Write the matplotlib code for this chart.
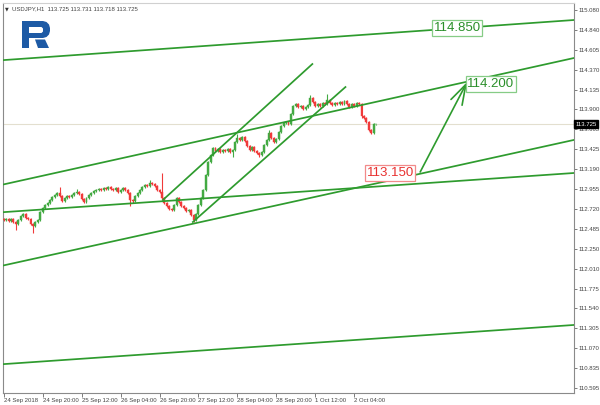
import matplotlib
matplotlib.use('Agg')
import matplotlib.pyplot as plt
from matplotlib.patches import Polygon

# ---------------- data (USDJPY H1) ----------------
opens = [112.600, 112.588, 112.600, 112.576, 112.600, 112.565, 112.541, 112.588, 112.636, 112.660,
         112.612, 112.600, 112.541, 112.517, 112.565, 112.588, 112.683, 112.731, 112.766, 112.790,
         112.826, 112.861, 112.885, 112.909, 112.873, 112.814, 112.849, 112.873, 112.861, 112.885,
         112.909, 112.921, 112.897, 112.837, 112.802, 112.849, 112.885, 112.909, 112.932, 112.944,
         112.956, 112.944, 112.968, 112.956, 112.980, 112.956, 112.944, 112.968, 112.921, 112.944,
         112.968, 112.944, 112.909, 112.826, 112.814, 112.873, 112.909, 112.944, 112.980, 113.004,
         112.992, 113.027, 113.015, 112.992, 112.944, 112.921, 112.849, 112.790, 112.754, 112.719,
         112.707, 112.766, 112.849, 112.802, 112.754, 112.731, 112.695, 112.707, 112.648, 112.588,
         112.660, 112.766, 112.849, 112.944, 113.122, 113.276, 113.360, 113.443, 113.407, 113.431,
         113.395, 113.419, 113.407, 113.431, 113.395, 113.419, 113.514, 113.561, 113.538, 113.573,
         113.526, 113.466, 113.419, 113.454, 113.407, 113.383, 113.360, 113.395, 113.478, 113.538,
         113.621, 113.561, 113.514, 113.549, 113.632, 113.704, 113.739, 113.751, 113.727, 113.846,
         113.941, 113.965, 113.929, 113.941, 113.905, 113.929, 113.953, 114.036, 113.988, 113.941,
         113.965, 113.941, 113.977, 113.965, 114.012, 113.977, 113.953, 113.977, 113.965, 113.988,
         113.965, 114.000, 113.965, 113.929, 113.965, 113.941, 113.977, 113.965, 113.822, 113.799,
         113.751, 113.656, 113.621, 113.725]
closes = [112.588, 112.600, 112.576, 112.600, 112.565, 112.541, 112.588, 112.636, 112.660, 112.612,
          112.600, 112.541, 112.517, 112.565, 112.588, 112.683, 112.731, 112.766, 112.790, 112.826,
          112.861, 112.885, 112.909, 112.873, 112.814, 112.849, 112.873, 112.861, 112.885, 112.909,
          112.921, 112.897, 112.837, 112.802, 112.849, 112.885, 112.909, 112.932, 112.944, 112.956,
          112.944, 112.968, 112.956, 112.980, 112.956, 112.944, 112.968, 112.921, 112.944, 112.968,
          112.944, 112.909, 112.826, 112.814, 112.873, 112.909, 112.944, 112.980, 113.004, 112.992,
          113.027, 113.015, 112.992, 112.944, 112.921, 112.849, 112.790, 112.754, 112.719, 112.707,
          112.766, 112.849, 112.802, 112.754, 112.731, 112.695, 112.707, 112.648, 112.588, 112.660,
          112.766, 112.849, 112.944, 113.122, 113.276, 113.360, 113.443, 113.407, 113.431, 113.395,
          113.419, 113.407, 113.431, 113.395, 113.419, 113.514, 113.561, 113.538, 113.573, 113.526,
          113.466, 113.419, 113.454, 113.407, 113.383, 113.360, 113.395, 113.478, 113.538, 113.621,
          113.561, 113.514, 113.549, 113.632, 113.704, 113.739, 113.751, 113.727, 113.846, 113.941,
          113.965, 113.929, 113.941, 113.905, 113.929, 113.953, 114.036, 113.988, 113.941, 113.965,
          113.941, 113.977, 113.965, 114.012, 113.977, 113.953, 113.977, 113.965, 113.988, 113.965,
          114.000, 113.965, 113.929, 113.965, 113.941, 113.977, 113.965, 113.822, 113.799, 113.751,
          113.656, 113.621, 113.727, 113.725]
highs = [112.612, 112.612, 112.612, 112.612, 112.612, 112.577, 112.600, 112.648, 112.672, 112.672,
         112.624, 112.612, 112.553, 112.577, 112.600, 112.695, 112.743, 112.778, 112.802, 112.838,
         112.873, 112.897, 112.921, 112.980, 112.885, 112.861, 112.885, 112.885, 112.897, 112.921,
         112.956, 112.933, 112.909, 112.849, 112.861, 112.897, 112.921, 112.944, 112.956, 112.968,
         112.968, 112.980, 112.980, 112.992, 112.992, 112.968, 112.980, 112.980, 112.956, 112.980,
         112.980, 112.956, 112.921, 112.838, 112.885, 112.921, 112.956, 112.992, 113.016, 113.016,
         113.063, 113.039, 113.027, 113.004, 112.956, 113.146, 112.861, 112.802, 112.766, 112.731,
         112.778, 112.861, 112.861, 112.814, 112.766, 112.743, 112.719, 112.719, 112.660, 112.672,
         112.778, 112.861, 112.956, 113.134, 113.288, 113.372, 113.455, 113.455, 113.443, 113.443,
         113.431, 113.431, 113.443, 113.443, 113.431, 113.526, 113.609, 113.573, 113.585, 113.585,
         113.538, 113.478, 113.466, 113.466, 113.419, 113.395, 113.407, 113.490, 113.550, 113.656,
         113.633, 113.573, 113.561, 113.644, 113.716, 113.751, 113.763, 113.763, 113.858, 113.953,
         113.977, 113.977, 113.953, 113.953, 113.941, 113.965, 114.071, 114.048, 114.000, 113.977,
         113.977, 113.989, 113.989, 114.083, 114.024, 113.989, 113.989, 113.989, 114.000, 114.000,
         114.012, 114.012, 113.977, 113.977, 113.977, 113.989, 113.989, 113.977, 113.834, 113.811,
         113.763, 113.668, 113.739, 113.731]
lows = [112.576, 112.576, 112.564, 112.564, 112.553, 112.470, 112.529, 112.576, 112.624, 112.600,
        112.588, 112.529, 112.434, 112.505, 112.553, 112.576, 112.671, 112.719, 112.754, 112.778,
        112.814, 112.849, 112.873, 112.861, 112.802, 112.802, 112.837, 112.849, 112.849, 112.873,
        112.897, 112.885, 112.825, 112.790, 112.790, 112.837, 112.873, 112.897, 112.920, 112.932,
        112.932, 112.932, 112.944, 112.944, 112.944, 112.932, 112.932, 112.909, 112.909, 112.932,
        112.932, 112.897, 112.754, 112.790, 112.802, 112.861, 112.897, 112.932, 112.968, 112.980,
        112.980, 113.003, 112.980, 112.932, 112.909, 112.837, 112.778, 112.742, 112.707, 112.695,
        112.695, 112.754, 112.790, 112.742, 112.719, 112.683, 112.683, 112.636, 112.565, 112.576,
        112.648, 112.754, 112.837, 112.932, 113.110, 113.264, 113.348, 113.395, 113.395, 113.383,
        113.383, 113.395, 113.395, 113.383, 113.336, 113.407, 113.502, 113.526, 113.526, 113.514,
        113.454, 113.407, 113.407, 113.395, 113.371, 113.336, 113.348, 113.383, 113.466, 113.526,
        113.549, 113.502, 113.502, 113.537, 113.620, 113.692, 113.727, 113.715, 113.715, 113.834,
        113.929, 113.917, 113.917, 113.893, 113.893, 113.917, 113.941, 113.976, 113.929, 113.929,
        113.929, 113.929, 113.953, 113.953, 113.965, 113.941, 113.941, 113.953, 113.953, 113.953,
        113.953, 113.953, 113.917, 113.917, 113.929, 113.929, 113.953, 113.800, 113.787, 113.739,
        113.644, 113.609, 113.609, 113.718]

current_price = 113.725
header = "USDJPY,H1  113.725 113.731 113.718 113.725"

x_tick_pos = [0, 16, 32, 48, 64, 80, 96, 112, 128, 144]
x_tick_labels = ['24 Sep 2018', '24 Sep 20:00', '25 Sep 12:00', '26 Sep 04:00', '26 Sep 20:00',
                 '27 Sep 12:00', '28 Sep 04:00', '28 Sep 20:00', '1 Oct 12:00', '2 Oct 04:00']
y_tick_vals = [115.080, 114.840, 114.605, 114.370, 114.135, 113.900, 113.665, 113.425, 113.190,
               112.955, 112.720, 112.485, 112.250, 112.010, 111.775, 111.540, 111.305, 111.070,
               110.835, 110.595]

# trend lines: anchor points (bar index, price)
long_lines = [((0.6, 114.487), (234.2, 114.961)),
              ((0.6, 113.015), (234.2, 114.510)),
              ((0.6, 112.054), (234.2, 113.538)),
              ((0.6, 112.683), (234.2, 113.146)),
              ((0.6, 110.880), (234.2, 111.343))]
short_lines = [((65.4, 112.826), (126.8, 114.439)),
               ((77.7, 112.565), (140.4, 114.166))]
arrow_from = (171.1, 113.158)
arrow_to = (190.4, 114.226)
level_labels = [(186.3, 114.866, '114.850', 'green'),
                (200.2, 114.202, '114.200', 'green'),
                (158.8, 113.146, '113.150', 'red')]

# ---------------- figure ----------------
W, H = 600, 405
fig = plt.figure(figsize=(6.0, 4.05), dpi=100)
ax = fig.add_axes([3 / W, 1 - 393 / H, (574 - 3) / W, (393 - 3) / H])
ax.set_xlim(-0.3, 234.3)
ax.set_ylim(110.536, 115.163)

GREEN_LINE = '#2e9b2e'
CG = '#43aa43'
CR = '#f03a3a'

# current price line
ax.axhline(current_price, color='#e3dfcf', lw=0.8, zorder=1)

# candles
for i in range(len(closes)):
    o, h, l, c = opens[i], highs[i], lows[i], closes[i]
    col = CG if c >= o else CR
    ax.vlines(i, l, h, color=col, lw=0.8, zorder=2)
    bot = min(o, c)
    ht = max(abs(c - o), 0.006)
    ax.bar(i, ht, bottom=bot, width=0.8, color=col, edgecolor=col, lw=0.3, zorder=3)

# trend lines
for p1, p2 in long_lines:
    ax.axline(p1, p2, color=GREEN_LINE, lw=1.25, zorder=4)
for p1, p2 in short_lines:
    ax.plot([p1[0], p2[0]], [p1[1], p2[1]], color=GREEN_LINE, lw=1.25, zorder=4)

ax.annotate('', xy=arrow_to, xytext=arrow_from,
            arrowprops=dict(arrowstyle='->,head_length=1.45,head_width=0.45',
                            color=GREEN_LINE, lw=1.2, shrinkA=0, shrinkB=0), zorder=5)

for x, y, txt, kind in level_labels:
    if kind == 'green':
        tc, ec = '#2a8f2a', '#86cc86'
    else:
        tc, ec = '#e8302f', '#f28a8a'
    ax.text(x, y, txt, color=tc, fontsize=9.5, family='Liberation Sans', ha='center', va='center',
            zorder=6, bbox=dict(boxstyle='square,pad=0.12', fc='white', ec=ec, lw=0.9))

# axes styling
for s in ['left', 'right', 'bottom', 'top']:
    ax.spines[s].set_color('#8a8a8a')
    ax.spines[s].set_linewidth(0.8)
ax.spines['top'].set_color('#d0d0d0')

ax.yaxis.tick_right()
ax.set_yticks(y_tick_vals)
ax.set_yticklabels([f'{v:.3f}' for v in y_tick_vals], fontsize=4.3, color='#444444',
                   family='Liberation Sans')
ax.tick_params(axis='y', direction='out', length=2, width=0.6, color='#666666', pad=1.5)

ax.set_xticks(x_tick_pos)
ax.set_xticklabels(x_tick_labels, fontsize=4.3, color='#444444', family='Liberation Sans')
for lab in ax.get_xticklabels():
    lab.set_ha('left')
ax.tick_params(axis='x', direction='out', length=3, width=0.6, color='#666666', pad=0.5)

# current price tag on the axis
ax.text(1.002, current_price, f'{current_price:.3f}', transform=ax.get_yaxis_transform(),
        fontsize=4.3, color='white', family='Liberation Sans', ha='left', va='center', zorder=10,
        bbox=dict(boxstyle='square,pad=0.25', fc='black', ec='black'), clip_on=False)

# overlay for header and logo (pixel coordinates)
ov = fig.add_axes([0, 0, 1, 1], zorder=20)
ov.set_xlim(0, W)
ov.set_ylim(H, 0)
ov.axis('off')
ov.patch.set_alpha(0)
ov.text(4.5, 8.5, '\u25bc', fontsize=3.5, color='#333333', ha='left', va='center')
ov.text(12, 8.5, header, fontsize=4.3, color='#444444', ha='left', va='center',
        family='Liberation Sans')

BLUE = '#1d5aa5'
outer = [(22, 21), (43, 21), (46.5, 22), (49, 24.5), (50, 28), (50, 31), (49, 34.5), (46.5, 37),
         (43, 38), (29, 38), (29, 48), (22, 48)]
hole = [(29, 27), (41.5, 27), (43, 28.5), (43, 31.5), (41.5, 33), (29, 33)]
leg = [(35, 39.5), (45, 39.5), (49, 48), (38, 48)]
ov.add_patch(Polygon(outer, closed=True, fc=BLUE, ec='none'))
ov.add_patch(Polygon(hole, closed=True, fc='white', ec='none'))
ov.add_patch(Polygon(leg, closed=True, fc=BLUE, ec='none'))

fig.savefig('out.png', dpi=100)
